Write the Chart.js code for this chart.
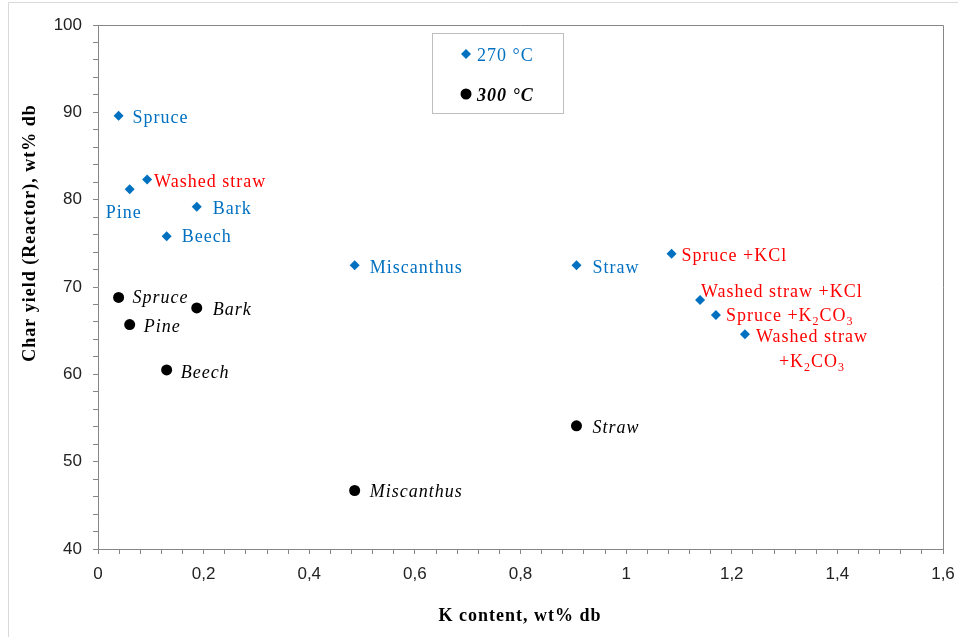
<!DOCTYPE html>
<html>
<head>
<meta charset="utf-8">
<script src="https://cdn.jsdelivr.net/npm/chart.js@4/dist/chart.umd.min.js"></script>
<style>
  html, body { margin: 0; padding: 0; background: #fff; }
  #wrap { width: 958px; height: 637px; position: relative; }
</style>
</head>
<body>
<div id="wrap"><canvas id="charYield"></canvas></div>
<script>
// 270 °C series
const names270 = ['Spruce', 'Pine', 'Washed straw', 'Bark', 'Beech', 'Miscanthus', 'Straw',
    'Spruce +KCl', 'Washed straw +KCl', 'Spruce +K₂CO₃', 'Washed straw\n+K₂CO₃'];
const k270 = [0.039, 0.060, 0.093, 0.187, 0.130, 0.486, 0.906, 1.086, 1.140, 1.170, 1.225];
const yield270 = [89.6, 81.2, 82.3, 79.2, 75.8, 72.5, 72.5, 73.8, 68.5, 66.8, 64.6];

// 300 °C series
const names300 = ['Spruce', 'Bark', 'Pine', 'Beech', 'Straw', 'Miscanthus'];
const k300 = [0.039, 0.187, 0.060, 0.130, 0.906, 0.486];
const yield300 = [68.8, 67.6, 65.7, 60.5, 54.1, 46.7];

// axis ticks
const xTickLabels = ['0', '0,2', '0,4', '0,6', '0,8', '1', '1,2', '1,4', '1,6'];
const yTickLabels = ['40', '50', '60', '70', '80', '90', '100'];

// label styling (offset from the point, colour)
const labelOffsets270 = [[14, 7], [-24, 29], [7, 7], [16, 7], [15, 6], [15, 8], [16, 8],
    [10, 7], [1, -3], [10, 6], [[11, 8], [34, 33]]];
const labelRed270 = [false, false, true, false, false, false, false, true, true, true, true];
const labelOffsets300 = [[14, 6], [16, 7], [14, 7], [14, 8], [16, 7], [15, 7]];

const BLUE = '#0070C0';
const RED = '#FF0000';
const AXIS_GREY = '#868686';
const SERIF = '"Liberation Serif", "Times New Roman", serif';

function drawRich(ctx, text, x, y, font, subFont) {
    const subs = { '₂': '2', '₃': '3' };
    let cx = x;
    let run = '';
    const flush = () => {
        if (!run) return;
        ctx.font = font;
        ctx.fillText(run, cx, y);
        cx += ctx.measureText(run).width;
        run = '';
    };
    for (const ch of text) {
        if (subs[ch]) {
            flush();
            ctx.font = subFont;
            ctx.fillText(subs[ch], cx, y + 4);
            cx += ctx.measureText(subs[ch]).width;
        } else {
            run += ch;
        }
    }
    flush();
}

const decorations = {
    id: 'decorations',
    beforeDraw(chart) {
        const ctx = chart.ctx;
        ctx.save();
        ctx.fillStyle = '#fff';
        ctx.fillRect(0, 0, chart.width, chart.height);
        // outer frame
        ctx.strokeStyle = '#d9d9d9';
        ctx.lineWidth = 1;
        ctx.beginPath();
        ctx.moveTo(8.5, chart.height);
        ctx.lineTo(8.5, 2.5);
        ctx.lineTo(chart.width, 2.5);
        ctx.stroke();
        // plot frame top / right
        const a = chart.chartArea;
        ctx.strokeStyle = AXIS_GREY;
        ctx.beginPath();
        ctx.moveTo(a.left, a.top + 0.5);
        ctx.lineTo(a.right + 0.5, a.top + 0.5);
        ctx.lineTo(a.right + 0.5, a.bottom);
        ctx.stroke();
        ctx.restore();
    },
    afterDraw(chart) {
        const ctx = chart.ctx;
        ctx.save();
        ctx.letterSpacing = '1px';
        ctx.textBaseline = 'alphabetic';
        ctx.textAlign = 'left';

        // point labels, 270 °C
        const m0 = chart.getDatasetMeta(0);
        m0.data.forEach((pt, i) => {
            ctx.fillStyle = labelRed270[i] ? RED : BLUE;
            const lines = names270[i].split('\n');
            const off = labelOffsets270[i];
            lines.forEach((line, j) => {
                const o = Array.isArray(off[0]) ? off[j] : off;
                drawRich(ctx, line, pt.x + o[0], pt.y + o[1], '18px ' + SERIF, '12px ' + SERIF);
            });
        });

        // point labels, 300 °C
        const m1 = chart.getDatasetMeta(1);
        ctx.fillStyle = '#000';
        ctx.font = 'italic 18px ' + SERIF;
        m1.data.forEach((pt, i) => {
            const o = labelOffsets300[i];
            ctx.fillText(names300[i], pt.x + o[0], pt.y + o[1]);
        });

        // legend box
        ctx.strokeStyle = '#bfbfbf';
        ctx.lineWidth = 1;
        ctx.strokeRect(432.5, 33.5, 131, 80);
        const ds = chart.data.datasets;
        // diamond
        ctx.fillStyle = BLUE;
        ctx.beginPath();
        ctx.moveTo(466, 49); ctx.lineTo(471, 54); ctx.lineTo(466, 59); ctx.lineTo(461, 54);
        ctx.closePath();
        ctx.fill();
        ctx.font = '18px ' + SERIF;
        ctx.fillText(ds[0].label, 477, 61);
        // circle
        ctx.fillStyle = '#000';
        ctx.beginPath();
        ctx.arc(466, 94, 5.5, 0, Math.PI * 2);
        ctx.fill();
        ctx.font = 'italic bold 18px ' + SERIF;
        ctx.fillText(ds[1].label, 477, 101);

        // axis titles
        ctx.fillStyle = '#000';
        ctx.font = 'bold 18px ' + SERIF;
        ctx.textAlign = 'center';
        ctx.fillText('K content, wt% db', 520, 621);
        ctx.translate(30, 233);
        ctx.rotate(-Math.PI / 2);
        ctx.textBaseline = 'middle';
        ctx.fillText('Char yield (Reactor), wt% db', 0, 0);
        ctx.restore();
    }
};

function isMajor(v, step) {
    return Math.abs(v / step - Math.round(v / step)) < 1e-6;
}

new Chart(document.getElementById('charYield'), {
    type: 'scatter',
    data: {
        datasets: [
            {
                label: '270 °C',
                data: k270.map((x, i) => ({ x: x, y: yield270[i] })),
                pointStyle: 'rectRot',
                pointRadius: 5,
                backgroundColor: BLUE,
                borderColor: BLUE,
                borderWidth: 0
            },
            {
                label: '300 °C',
                data: k300.map((x, i) => ({ x: x, y: yield300[i] })),
                pointStyle: 'circle',
                pointRadius: 5.5,
                backgroundColor: '#000',
                borderColor: '#000',
                borderWidth: 0
            }
        ]
    },
    options: {
        responsive: true,
        maintainAspectRatio: false,
        animation: false,
        layout: { padding: { top: 25, right: 15, left: 0, bottom: 0 } },
        plugins: {
            legend: { display: false },
            tooltip: { enabled: false }
        },
        scales: {
            x: {
                type: 'linear',
                min: 0,
                max: 1.6,
                afterFit: (scale) => {
                    scale.height = 88;
                    scale.paddingLeft = 0;
                    scale.paddingRight = 0;
                },
                ticks: {
                    stepSize: 0.04,
                    autoSkip: false,
                    maxRotation: 0,
                    padding: 10,
                    color: '#222',
                    font: { family: '"Liberation Sans", Arial, sans-serif', size: 17 },
                    callback: (v) => isMajor(v, 0.2) ? xTickLabels[Math.round(v / 0.2)] : ''
                },
                grid: { drawOnChartArea: false, tickLength: 5, color: AXIS_GREY },
                border: { color: AXIS_GREY }
            },
            y: {
                type: 'linear',
                min: 40,
                max: 100,
                afterFit: (scale) => {
                    scale.width = 98;
                    scale.paddingTop = 0;
                    scale.paddingBottom = 0;
                },
                ticks: {
                    stepSize: 2,
                    autoSkip: false,
                    padding: 11,
                    color: '#222',
                    font: { family: '"Liberation Sans", Arial, sans-serif', size: 17 },
                    callback: (v) => isMajor(v, 10) ? yTickLabels[Math.round((v - 40) / 10)] : ''
                },
                grid: { drawOnChartArea: false, tickLength: 5, color: AXIS_GREY },
                border: { color: AXIS_GREY }
            }
        }
    },
    plugins: [decorations]
});
</script>
</body>
</html>
